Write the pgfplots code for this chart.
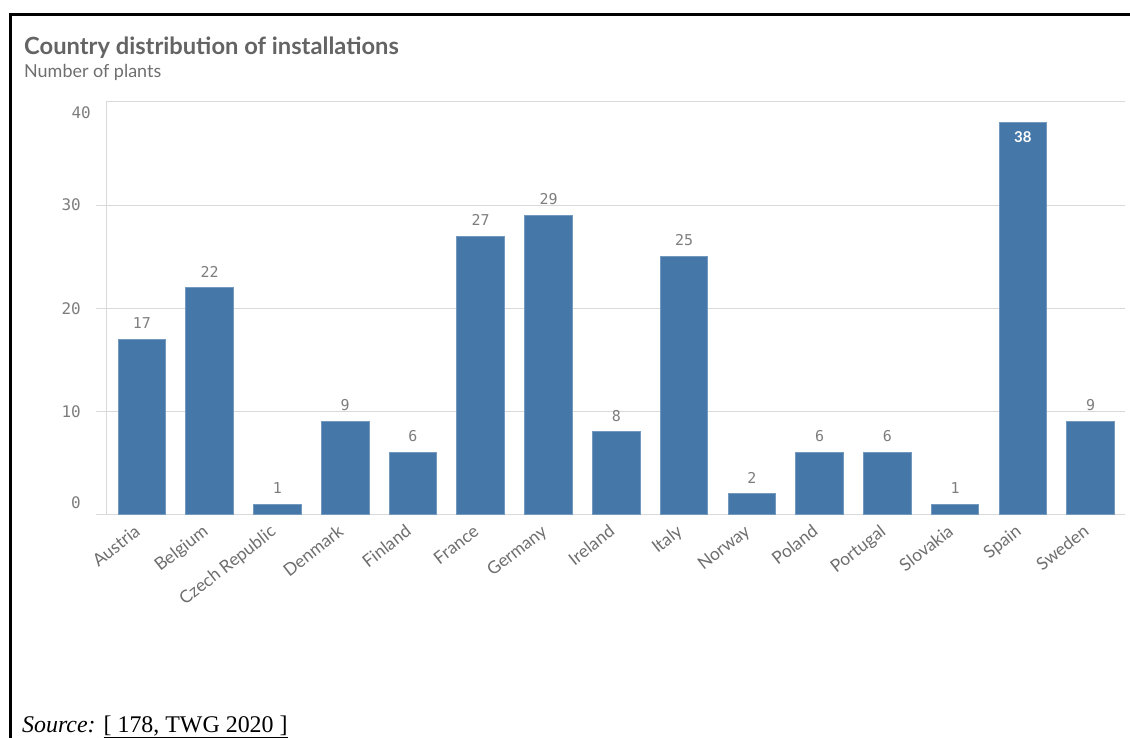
\documentclass[border=0pt]{standalone}
\usepackage{fontspec}
\setmainfont{Lato}
\newfontfamily\monofont{DejaVu Sans Mono}
\newfontfamily\serifont{Liberation Serif}
\usepackage{pgfplots}
\pgfplotsset{compat=1.18}
\definecolor{barblue}{RGB}{69,119,168}
\definecolor{gridgray}{RGB}{217,217,217}
\definecolor{titlegray}{RGB}{100,100,100}
\definecolor{labgray}{RGB}{110,110,110}
\definecolor{tickgray}{RGB}{125,125,125}
\begin{document}
\begin{tikzpicture}[x=1bp,y=1bp]
\useasboundingbox (0,0) rectangle (1130,738);
\draw[line width=3.5bp] (8.5,723.3) -- (1130,723.3);
\draw[line width=3.5bp] (10.3,725) -- (10.3,0);
\node[anchor=base west, inner sep=0, font=\fontsize{23.8}{27}\selectfont\bfseries, text=titlegray] at (24,683.5) {Country distribution of installations};
\node[anchor=base west, inner sep=0, font=\fontsize{18}{21}\selectfont, text=labgray] at (24,660.5) {Number of plants};
\node[anchor=base west, inner sep=0, font=\serifont\fontsize{24}{28}\selectfont] at (22,5.7) {\textit{Source:} \underline{[ 178, TWG 2020 ]}};
\begin{axis}[
  at={(106bp,223.5bp)}, anchor=south west, scale only axis,
  width=1018.5bp, height=412.5bp,
  xmin=-0.53, xmax=14.5, ymin=0, ymax=40,
  ybar, bar width=47.6bp,
  axis x line*=bottom, axis y line*=left,
  axis line style={draw=gridgray, line width=1bp, -},
  ymajorgrids, grid style={draw=gridgray, line width=1bp},
  tick align=outside, major tick length=10bp,
  ytick style={draw=gridgray, line width=1bp},
  xtick style={draw=none},
  ytick={0,10,20,30},
  yticklabels={\raisebox{6.2bp}[0pt][0pt]{0},10,20,30},
  extra y ticks={40},
  extra y tick labels={\raisebox{-16.8bp}[0pt][0pt]{40}},
  extra y tick style={grid=major, major tick length=0pt},
  yticklabel style={font=\monofont\fontsize{16}{18}\selectfont, text=tickgray, anchor=east, inner sep=0pt, xshift=-15bp},
  xtick={0,...,14},
  xticklabels={Austria,Belgium,Czech Republic,Denmark,Finland,France,Germany,Ireland,Italy,Norway,Poland,Portugal,Slovakia,Spain,Sweden},
  xticklabel style={font=\fontsize{17.5}{20}\selectfont, text=labgray, rotate=38, anchor=north east, inner sep=0pt, xshift=-6bp, yshift=6bp},
  /pgf/number format/assume math mode=true,
  clip=false,
]
\addplot[fill=barblue, draw=barblue!75!white, line width=1bp, bar shift=0pt,
  nodes near coords,
  every node near coord/.style={font=\monofont\fontsize{15}{17}\selectfont, text=tickgray, anchor=south, inner sep=0pt, yshift=10bp}]
  coordinates {(0,17) (1,22) (2,1) (3,9) (4,6) (5,27) (6,29) (7,8) (8,25) (9,2) (10,6) (11,6) (12,1) (14,9)};
\addplot[fill=barblue, draw=barblue!75!white, line width=1bp, bar shift=0pt,
  nodes near coords,
  every node near coord/.style={font=\bfseries\fontsize{15}{17}\selectfont, text=white, anchor=north, inner sep=0pt, yshift=-8bp}]
  coordinates {(13,38)};
\end{axis}
\end{tikzpicture}
\end{document}
